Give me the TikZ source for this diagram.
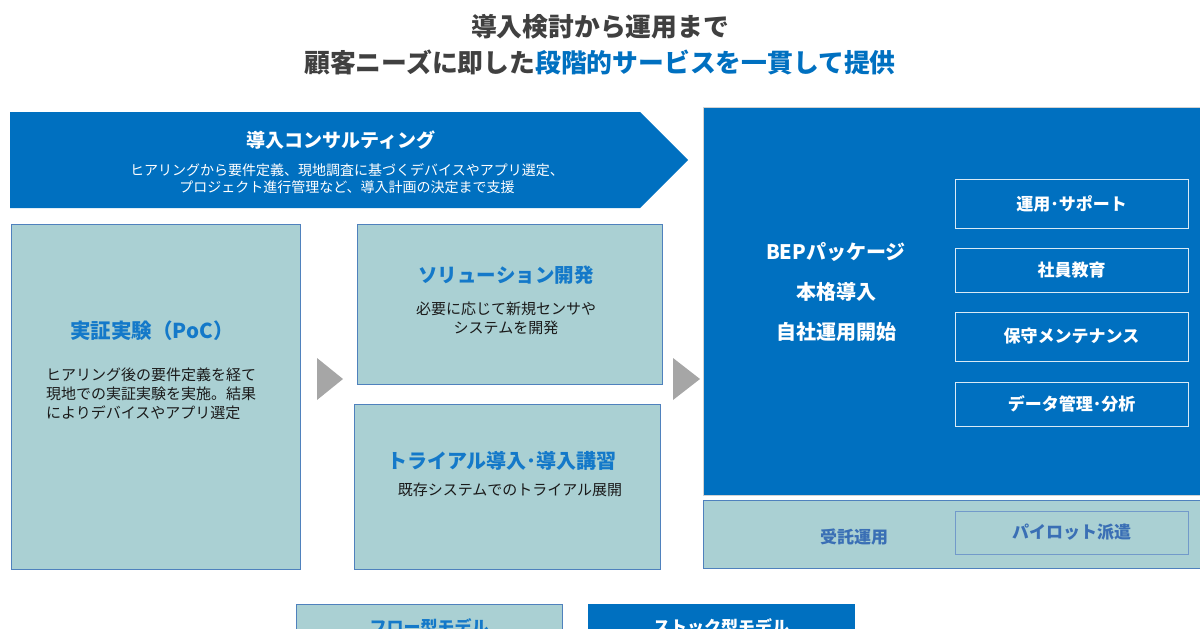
\documentclass[tikz,border=0pt]{standalone}
\usepackage{fontspec}
\setmainfont{Noto Sans CJK JP}
\definecolor{mainblue}{HTML}{0070C0}
\definecolor{tealfill}{HTML}{AAD0D3}
\definecolor{tealedge}{HTML}{4F81BD}
\definecolor{titlegray}{HTML}{404040}
\definecolor{arrowgray}{HTML}{A6A6A6}
\definecolor{bodytext}{HTML}{1A1A1A}
\definecolor{subtitleblue}{HTML}{1479C9}
\definecolor{pilotblue}{HTML}{3A6FB5}
\tikzset{
  tealbox/.style={draw=tealedge, fill=tealfill, line width=0.9pt, inner sep=0pt, outer sep=0pt, anchor=north west},
  bluebox/.style={draw=gray!35, fill=mainblue, line width=0.9pt, inner sep=0pt, outer sep=0pt, anchor=north west},
  whitebox/.style={draw=white!85!mainblue, line width=1pt, inner sep=0pt, outer sep=0pt, anchor=north west, minimum width=233pt},
  pilotbox/.style={draw=tealedge!80, line width=1pt, inner sep=0pt, outer sep=0pt, anchor=north west, minimum width=233pt},
  boxtitle/.style={text=subtitleblue, font=\fontsize{19.5}{23}\selectfont\bfseries, inner sep=0pt},
  bodytxt/.style={text=bodytext, font=\fontsize{15}{19}\selectfont, inner sep=0pt},
  whitetxt/.style={text=white, font=\fontsize{17}{21}\selectfont\bfseries, inner sep=0pt},
  steparrow/.style={fill=arrowgray}
}
\begin{document}
\begin{tikzpicture}[x=1pt,y=-1pt]
\useasboundingbox (0,0) rectangle (1200,629);
\clip (0,0) rectangle (1200,629);
% title
\node[text=titlegray, font=\fontsize{25.8}{30}\selectfont\bfseries, inner sep=0pt] (t1) at (600,27) {導入検討から運用まで};
\node[text=titlegray, font=\fontsize{25.8}{30}\selectfont\bfseries, inner sep=0pt] (t2) at (600,62) {顧客ニーズに即した\textcolor{mainblue}{段階的サービスを一貫して提供}};
% banner
\fill[mainblue] (10,112) -- (640,112) -- (688,160) -- (640,208) -- (10,208) -- cycle;
\node[text=white, font=\fontsize{19}{23}\selectfont\bfseries, inner sep=0pt] (bant) at (341,140) {導入コンサルティング};
\node[text=white, font=\fontsize{14}{17}\selectfont, align=center, inner sep=0pt] (banb) at (347,179) {ヒアリングから要件定義、現地調査に基づくデバイスやアプリ選定、\\プロジェクト進行管理など、導入計画の決定まで支援};
% PoC box
\node[tealbox, minimum width=289pt, minimum height=345pt] (poc) at (11,224) {};
\node[boxtitle, font=\fontsize{20.5}{24}\selectfont\bfseries] (poct) at (152,331) {実証実験（PoC）};
\node[bodytxt, anchor=west, align=left] (pocb) at (46,394) {ヒアリング後の要件定義を経て\\現地での実証実験を実施。結果\\によりデバイスやアプリ選定};
% arrows
\fill[steparrow] (317,358) -- (343,379) -- (317,400) -- cycle;
\fill[steparrow] (673,358) -- (700,379) -- (673,400) -- cycle;
% solution box
\node[tealbox, minimum width=305pt, minimum height=160pt] (sol) at (357,224) {};
\node[boxtitle] (solt) at (506,275) {ソリューション開発};
\node[bodytxt, align=center] (solb) at (506,318) {必要に応じて新規センサや\\システムを開発};
% trial box
\node[tealbox, minimum width=306pt, minimum height=165pt] (tri) at (354,404) {};
\node[boxtitle, font=\fontsize{20}{24}\selectfont\bfseries] (trit) at (502,461) {トライアル導入･導入講習};
\node[bodytxt] (trib) at (510,490) {既存システムでのトライアル展開};
% BEP box
\node[bluebox, minimum width=505pt, minimum height=388pt] (bep) at (703,107) {};
\node[text=white, font=\fontsize{20}{40}\selectfont\bfseries, align=center, inner sep=0pt] (bept) at (836,292) {BEPパッケージ\\本格導入\\自社運用開始};
\node[whitebox, minimum height=49pt] (s1) at (955,179) {};
\node[whitetxt] (s1t) at (s1.center) {運用･サポート};
\node[whitebox, minimum height=44pt] (s2) at (955,248) {};
\node[whitetxt] (s2t) at (s2.center) {社員教育};
\node[whitebox, minimum height=49pt] (s3) at (955,312) {};
\node[whitetxt] (s3t) at (s3.center) {保守メンテナンス};
\node[whitebox, minimum height=44pt] (s4) at (955,382) {};
\node[whitetxt] (s4t) at (s4.center) {データ管理･分析};
% outsourced operation
\node[tealbox, minimum width=505pt, minimum height=68pt] (jut) at (703,500) {};
\node[text=pilotblue, font=\fontsize{17}{21}\selectfont\bfseries, inner sep=0pt] (jutt) at (854,537) {受託運用};
\node[pilotbox, minimum height=43pt] (pil) at (955,511) {};
\node[text=pilotblue, font=\fontsize{17}{21}\selectfont\bfseries, inner sep=0pt] (pilt) at (pil.center) {パイロット派遣};
% legend (cut by the lower edge, as in the reference)
\node[tealbox, minimum width=266pt, minimum height=40pt] (flow) at (296,604) {};
\node[text=subtitleblue, font=\fontsize{17}{21}\selectfont\bfseries, inner sep=0pt] (flowt) at (429,627) {フロー型モデル};
\node[fill=mainblue, inner sep=0pt, outer sep=0pt, anchor=north west, minimum width=267pt, minimum height=40pt] (stock) at (588,604) {};
\node[text=white, font=\fontsize{17}{21}\selectfont\bfseries, inner sep=0pt] (stockt) at (721,627) {ストック型モデル};
\end{tikzpicture}
\end{document}
